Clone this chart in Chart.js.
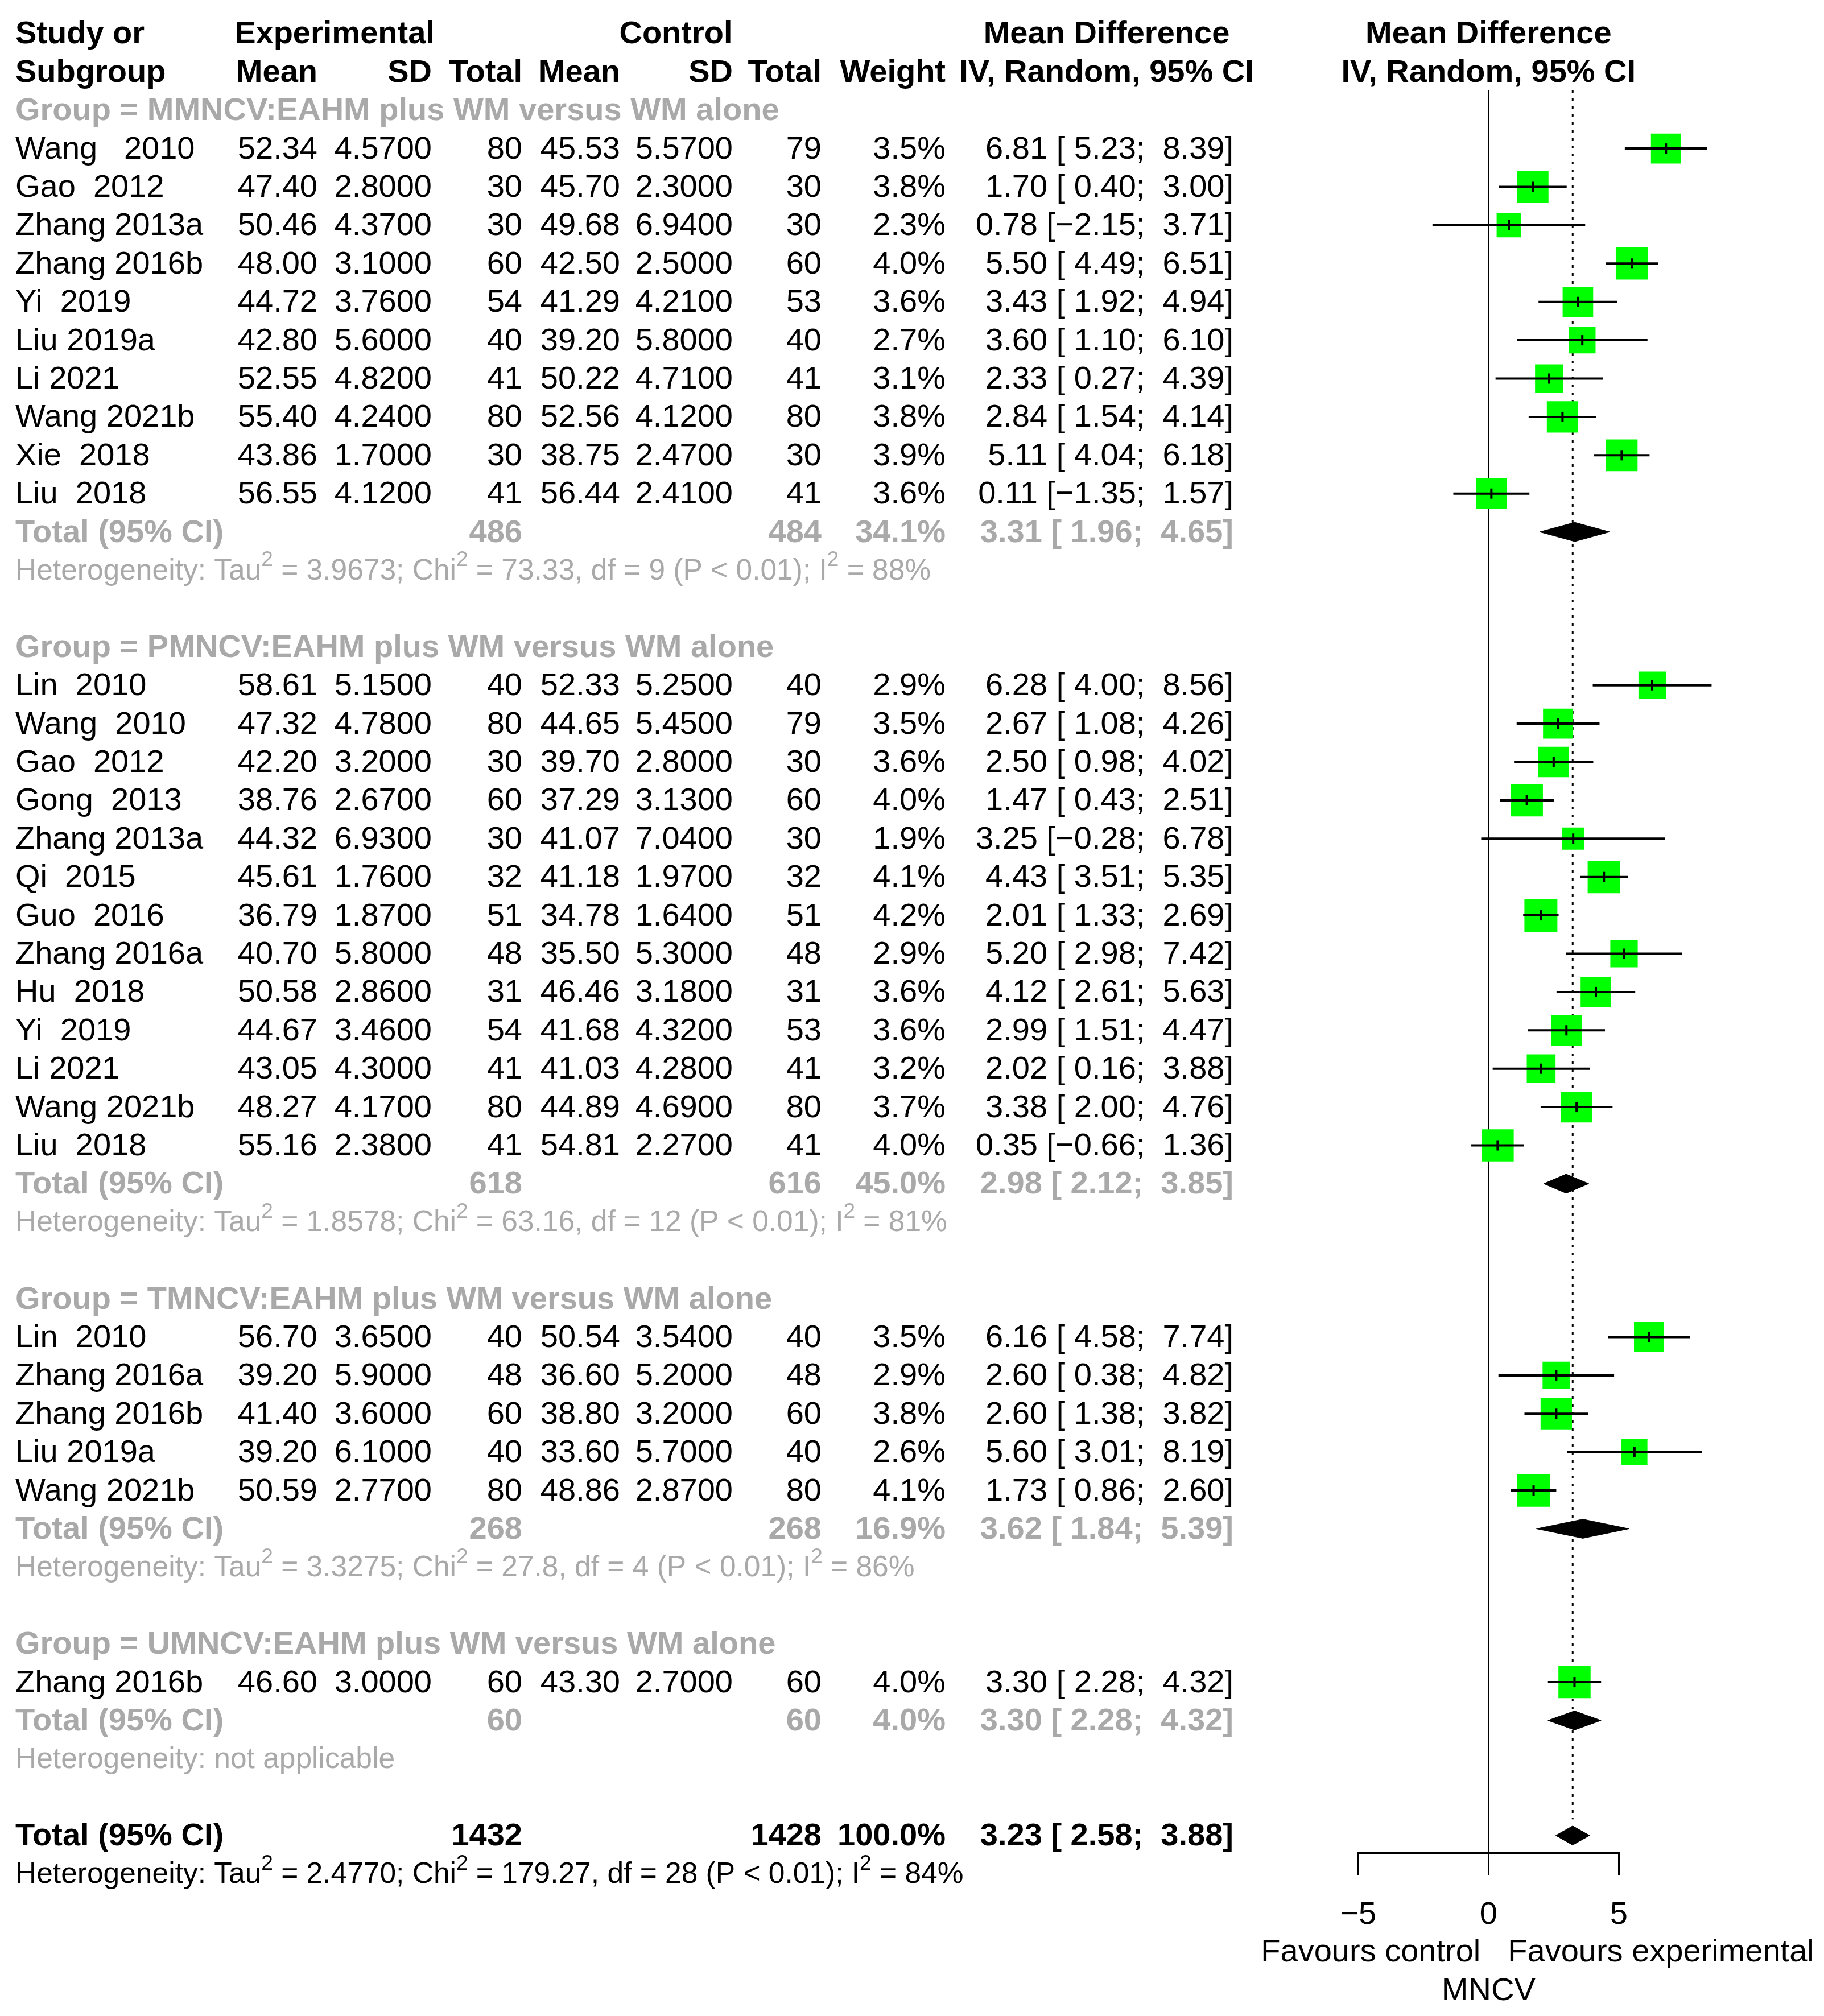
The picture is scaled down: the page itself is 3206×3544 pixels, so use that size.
<!DOCTYPE html>
<html>
<head>
<meta charset="utf-8">
<script src="https://cdn.jsdelivr.net/npm/chart.js@4.4.1/dist/chart.umd.min.js"></script>
<style>
  html, body { margin: 0; padding: 0; background: #fff; }
  canvas { display: block; }
</style>
</head>
<body>
<canvas id="grafico" width="3206" height="3544"></canvas>
<script>
// studies, in the order they appear in each subgroup
const studies = [
  'Wang   2010', 'Gao  2012', 'Zhang 2013a', 'Zhang 2016b', 'Yi  2019', 'Liu 2019a', 'Li 2021', 'Wang 2021b', 'Xie  2018', 'Liu  2018',
  'Lin  2010', 'Wang  2010', 'Gao  2012', 'Gong  2013', 'Zhang 2013a', 'Qi  2015', 'Guo  2016', 'Zhang 2016a', 'Hu  2018', 'Yi  2019', 'Li 2021', 'Wang 2021b', 'Liu  2018',
  'Lin  2010', 'Zhang 2016a', 'Zhang 2016b', 'Liu 2019a', 'Wang 2021b',
  'Zhang 2016b'
];
const studyGroup = [0,0,0,0,0,0,0,0,0,0, 1,1,1,1,1,1,1,1,1,1,1,1,1, 2,2,2,2,2, 3];
const expMean = [52.34,47.40,50.46,48.00,44.72,42.80,52.55,55.40,43.86,56.55, 58.61,47.32,42.20,38.76,44.32,45.61,36.79,40.70,50.58,44.67,43.05,48.27,55.16, 56.70,39.20,41.40,39.20,50.59, 46.60];
const expSD = [4.57,2.80,4.37,3.10,3.76,5.60,4.82,4.24,1.70,4.12, 5.15,4.78,3.20,2.67,6.93,1.76,1.87,5.80,2.86,3.46,4.30,4.17,2.38, 3.65,5.90,3.60,6.10,2.77, 3.00];
const expN = [80,30,30,60,54,40,41,80,30,41, 40,80,30,60,30,32,51,48,31,54,41,80,41, 40,48,60,40,80, 60];
const ctrlMean = [45.53,45.70,49.68,42.50,41.29,39.20,50.22,52.56,38.75,56.44, 52.33,44.65,39.70,37.29,41.07,41.18,34.78,35.50,46.46,41.68,41.03,44.89,54.81, 50.54,36.60,38.80,33.60,48.86, 43.30];
const ctrlSD = [5.57,2.30,6.94,2.50,4.21,5.80,4.71,4.12,2.47,2.41, 5.25,5.45,2.80,3.13,7.04,1.97,1.64,5.30,3.18,4.32,4.28,4.69,2.27, 3.54,5.20,3.20,5.70,2.87, 2.70];
const ctrlN = [79,30,30,60,53,40,41,80,30,41, 40,79,30,60,30,32,51,48,31,53,41,80,41, 40,48,60,40,80, 60];
const weights = [3.5,3.8,2.3,4.0,3.6,2.7,3.1,3.8,3.9,3.6, 2.9,3.5,3.6,4.0,1.9,4.1,4.2,2.9,3.6,3.6,3.2,3.7,4.0, 3.5,2.9,3.8,2.6,4.1, 4.0];
const md = [6.81,1.70,0.78,5.50,3.43,3.60,2.33,2.84,5.11,0.11, 6.28,2.67,2.50,1.47,3.25,4.43,2.01,5.20,4.12,2.99,2.02,3.38,0.35, 6.16,2.60,2.60,5.60,1.73, 3.30];
const ciLow = [5.23,0.40,-2.15,4.49,1.92,1.10,0.27,1.54,4.04,-1.35, 4.00,1.08,0.98,0.43,-0.28,3.51,1.33,2.98,2.61,1.51,0.16,2.00,-0.66, 4.58,0.38,1.38,3.01,0.86, 2.28];
const ciHigh = [8.39,3.00,3.71,6.51,4.94,6.10,4.39,4.14,6.18,1.57, 8.56,4.26,4.02,2.51,6.78,5.35,2.69,7.42,5.63,4.47,3.88,4.76,1.36, 7.74,4.82,3.82,8.19,2.60, 4.32];

// subgroups
const groupTitles = [
  'Group = MMNCV:EAHM plus WM versus WM alone',
  'Group = PMNCV:EAHM plus WM versus WM alone',
  'Group = TMNCV:EAHM plus WM versus WM alone',
  'Group = UMNCV:EAHM plus WM versus WM alone'
];
const groupExpN = [486, 618, 268, 60];
const groupCtrlN = [484, 616, 268, 60];
const groupWeight = [34.1, 45.0, 16.9, 4.0];
const groupMd = [3.31, 2.98, 3.62, 3.30];
const groupLow = [1.96, 2.12, 1.84, 2.28];
const groupHigh = [4.65, 3.85, 5.39, 4.32];
const groupHet = [
  'Heterogeneity: Tau² = 3.9673; Chi² = 73.33, df = 9 (P < 0.01); I² = 88%',
  'Heterogeneity: Tau² = 1.8578; Chi² = 63.16, df = 12 (P < 0.01); I² = 81%',
  'Heterogeneity: Tau² = 3.3275; Chi² = 27.8, df = 4 (P < 0.01); I² = 86%',
  'Heterogeneity: not applicable'
];

// overall
const totalN = [1432, 1428];
const totalWeight = 100.0;
const totalEffect = [3.23, 2.58, 3.88];
const totalHet = 'Heterogeneity: Tau² = 2.4770; Chi² = 179.27, df = 28 (P < 0.01); I² = 84%';

const xTicks = [-5, 0, 5];

// row numbers (one line per row, like the table)
const studyRow = [];
const groupRow = [], totalRow = [], hetRow = [];
let r = 0;
groupTitles.forEach((t, g) => {
  groupRow[g] = r++;
  studies.forEach((s, i) => { if (studyGroup[i] === g) studyRow[i] = r++; });
  totalRow[g] = r++;
  hetRow[g] = r++;
  r++;
});
const overallRow = r;
const overallHetRow = r + 1;

const BLACK = '#000000';
const GRAY = '#A9A9A9';
const FONT = '"Liberation Sans", Arial, Helvetica, sans-serif';
const SIZE = 56;
const HET_SIZE = 51.5;

function num(v, d) {
  const s = Math.abs(v).toFixed(d);
  return v < 0 ? '\u2212' + s : s;
}
function ciText(m, lo, hi) {
  const pad = v => (v < 0 ? '' : ' ') + num(v, 2);
  return num(m, 2) + ' [' + pad(lo) + '; ' + pad(hi) + ']';
}

function txt(ctx, s, x, y, align, bold, color) {
  ctx.font = (bold ? 'bold ' : '') + SIZE + 'px ' + FONT;
  ctx.fillStyle = color;
  ctx.textAlign = align;
  ctx.textBaseline = 'middle';
  ctx.fillText(s, x, y + 2);
}

// left aligned text where ² is drawn as a small raised 2
function txtSup(ctx, s, x, y, color) {
  ctx.fillStyle = color;
  ctx.textAlign = 'left';
  ctx.textBaseline = 'middle';
  let cx = x;
  s.split('²').forEach((part, i) => {
    if (i > 0) {
      ctx.font = Math.round(HET_SIZE * 0.72) + 'px ' + FONT;
      ctx.fillText('2', cx, y + 2 - HET_SIZE * 0.38);
      cx += ctx.measureText('2').width;
    }
    ctx.font = HET_SIZE + 'px ' + FONT;
    ctx.fillText(part, cx, y + 2);
    cx += ctx.measureText(part).width;
  });
}

const col = {
  study: 27, expMean: 558, expSD: 759, expN: 918,
  ctrlMean: 1090, ctrlSD: 1288, ctrlN: 1444, weight: 1662,
  ci: 2168, ciHead: 1945, expHead: 588, ctrlHead: 1188
};

const tabela = {
  id: 'tabela',
  afterDraw(chart) {
    const ctx = chart.ctx;
    const xs = chart.scales.x, ys = chart.scales.y;
    const py = v => ys.getPixelForValue(v);
    const zero = xs.getPixelForValue(0);
    ctx.save();

    // header
    txt(ctx, 'Study or', col.study, py(-2), 'left', true, BLACK);
    txt(ctx, 'Subgroup', col.study, py(-1), 'left', true, BLACK);
    txt(ctx, 'Experimental', col.expHead, py(-2), 'center', true, BLACK);
    txt(ctx, 'Control', col.ctrlHead, py(-2), 'center', true, BLACK);
    txt(ctx, 'Mean Difference', col.ciHead, py(-2), 'center', true, BLACK);
    txt(ctx, 'Mean Difference', zero, py(-2), 'center', true, BLACK);
    txt(ctx, 'Mean', col.expMean, py(-1), 'right', true, BLACK);
    txt(ctx, 'SD', col.expSD, py(-1), 'right', true, BLACK);
    txt(ctx, 'Total', col.expN, py(-1), 'right', true, BLACK);
    txt(ctx, 'Mean', col.ctrlMean, py(-1), 'right', true, BLACK);
    txt(ctx, 'SD', col.ctrlSD, py(-1), 'right', true, BLACK);
    txt(ctx, 'Total', col.ctrlN, py(-1), 'right', true, BLACK);
    txt(ctx, 'Weight', col.weight, py(-1), 'right', true, BLACK);
    txt(ctx, 'IV, Random, 95% CI', col.ciHead, py(-1), 'center', true, BLACK);
    txt(ctx, 'IV, Random, 95% CI', zero, py(-1), 'center', true, BLACK);

    // studies
    studies.forEach((s, i) => {
      const y = py(studyRow[i]);
      txt(ctx, s, col.study, y, 'left', false, BLACK);
      txt(ctx, num(expMean[i], 2), col.expMean, y, 'right', false, BLACK);
      txt(ctx, num(expSD[i], 4), col.expSD, y, 'right', false, BLACK);
      txt(ctx, String(expN[i]), col.expN, y, 'right', false, BLACK);
      txt(ctx, num(ctrlMean[i], 2), col.ctrlMean, y, 'right', false, BLACK);
      txt(ctx, num(ctrlSD[i], 4), col.ctrlSD, y, 'right', false, BLACK);
      txt(ctx, String(ctrlN[i]), col.ctrlN, y, 'right', false, BLACK);
      txt(ctx, weights[i].toFixed(1) + '%', col.weight, y, 'right', false, BLACK);
      txt(ctx, ciText(md[i], ciLow[i], ciHigh[i]), col.ci, y, 'right', false, BLACK);
    });

    // subgroups
    groupTitles.forEach((t, g) => {
      txt(ctx, t, col.study, py(groupRow[g]), 'left', true, GRAY);
      const y = py(totalRow[g]);
      txt(ctx, 'Total (95% CI)', col.study, y, 'left', true, GRAY);
      txt(ctx, String(groupExpN[g]), col.expN, y, 'right', true, GRAY);
      txt(ctx, String(groupCtrlN[g]), col.ctrlN, y, 'right', true, GRAY);
      txt(ctx, groupWeight[g].toFixed(1) + '%', col.weight, y, 'right', true, GRAY);
      txt(ctx, ciText(groupMd[g], groupLow[g], groupHigh[g]), col.ci, y, 'right', true, GRAY);
      txtSup(ctx, groupHet[g], col.study, py(hetRow[g]), GRAY);
    });

    // overall
    const yt = py(overallRow);
    txt(ctx, 'Total (95% CI)', col.study, yt, 'left', true, BLACK);
    txt(ctx, String(totalN[0]), col.expN, yt, 'right', true, BLACK);
    txt(ctx, String(totalN[1]), col.ctrlN, yt, 'right', true, BLACK);
    txt(ctx, totalWeight.toFixed(1) + '%', col.weight, yt, 'right', true, BLACK);
    txt(ctx, ciText(totalEffect[0], totalEffect[1], totalEffect[2]), col.ci, yt, 'right', true, BLACK);
    txtSup(ctx, totalHet, col.study, py(overallHetRow), BLACK);

    // axis line from -5 to 5
    const bottom = chart.chartArea.bottom;
    ctx.strokeStyle = BLACK;
    ctx.lineWidth = 4;
    ctx.beginPath();
    ctx.moveTo(xs.getPixelForValue(xTicks[0]) - 2, bottom);
    ctx.lineTo(xs.getPixelForValue(xTicks[xTicks.length - 1]) + 2, bottom);
    ctx.stroke();

    // axis labels
    txt(ctx, 'Favours control', zero - 14, 3431, 'right', false, BLACK);
    txt(ctx, 'Favours experimental', zero + 34, 3431, 'left', false, BLACK);
    txt(ctx, 'MNCV', zero, 3499, 'center', false, BLACK);
    ctx.restore();
  }
};

// marks
const pontos = md.map((v, i) => ({ x: v, y: studyRow[i] }));
const linhasIC = [];
md.forEach((v, i) => {
  linhasIC.push({ x: ciLow[i], y: studyRow[i] }, { x: ciHigh[i], y: studyRow[i] }, { x: null, y: null });
});
const diamante = (m, lo, hi, row) => [
  { x: lo, y: row }, { x: m, y: row - 0.25 }, { x: hi, y: row }, { x: m, y: row + 0.25 }, { x: lo, y: row }
];
const diamantes = groupMd.map((m, g) => diamante(m, groupLow[g], groupHigh[g], totalRow[g]));
diamantes.push(diamante(totalEffect[0], totalEffect[1], totalEffect[2], overallRow));

const Y_MIN = -0.53, Y_MAX = 45.45;

const datasets = [
  {
    data: pontos, showLine: false, pointStyle: 'line', pointRotation: 90,
    pointRadius: 9, pointBorderWidth: 4, pointBorderColor: BLACK, clip: false
  },
  {
    data: linhasIC, borderColor: BLACK, borderWidth: 4, pointRadius: 0,
    spanGaps: false, tension: 0, clip: false
  },
  {
    data: pontos, showLine: false, pointStyle: 'rect',
    pointRadius: weights.map(w => 20 * Math.sqrt(w)),
    pointBackgroundColor: '#00FF00', pointBorderWidth: 0, clip: false
  }
];
diamantes.forEach(d => datasets.push({
  data: d, borderColor: BLACK, borderWidth: 1, backgroundColor: BLACK,
  fill: 'shape', pointRadius: 0, tension: 0, clip: false
}));
datasets.push({
  data: [{ x: totalEffect[0], y: Y_MIN }, { x: totalEffect[0], y: overallRow - 0.42 }],
  borderColor: BLACK, borderWidth: 3, borderDash: [5, 9], pointRadius: 0, clip: false
});

new Chart(document.getElementById('grafico'), {
  type: 'line',
  data: { datasets },
  options: {
    responsive: false,
    animation: false,
    devicePixelRatio: 1,
    layout: { padding: { left: 2066.6, right: 18.6, top: 158, bottom: 0 } },
    plugins: { legend: { display: false }, tooltip: { enabled: false } },
    scales: {
      x: {
        type: 'linear', min: -12, max: 12,
        afterBuildTicks: s => { s.ticks = xTicks.map(v => ({ value: v })); },
        afterFit: s => { s.height = 287; },
        border: { display: false },
        grid: {
          color: c => (c.tick && c.tick.value === 0 ? BLACK : 'rgba(0,0,0,0)'),
          tickColor: BLACK, lineWidth: 3, tickLength: 40, drawOnChartArea: true
        },
        ticks: {
          color: BLACK, padding: 36,
          font: { family: FONT, size: SIZE },
          callback: v => (v < 0 ? '\u2212' + Math.abs(v) : String(v))
        }
      },
      y: { type: 'linear', display: false, reverse: true, min: Y_MIN, max: Y_MAX }
    }
  },
  plugins: [tabela]
});
</script>
</body>
</html>
